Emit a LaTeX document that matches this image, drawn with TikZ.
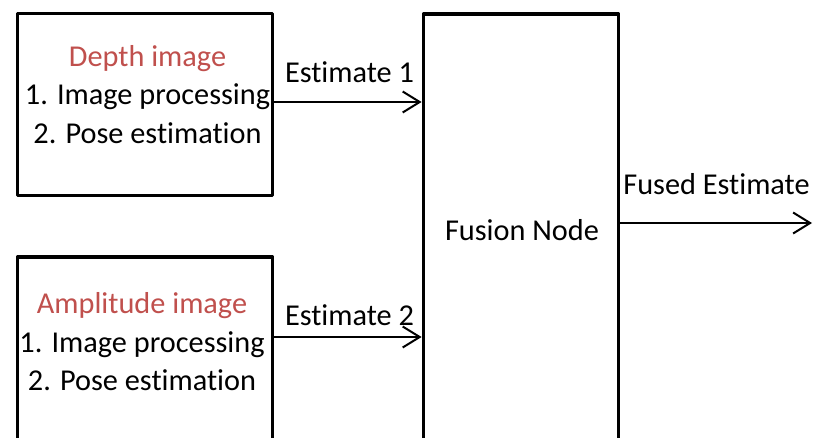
\documentclass[tikz,border=0pt]{standalone}
\usepackage{fontspec}
\setmainfont[Ligatures=NoCommon]{Carlito}
\usetikzlibrary{arrows.meta}
\definecolor{srcred}{HTML}{C0504D}
\tikzset{
  box/.style={draw, line width=3.8pt, inner sep=0pt, line join=round},
  lbl/.style={anchor=base, inner sep=0pt, font=\fontsize{30.3}{36}\selectfont},
  title/.style={lbl, text=srcred},
  flow/.style={line width=2pt, -{Straight Barb[length=17pt, width=21pt, line width=2pt]}},
}
\begin{document}
\begin{tikzpicture}[x=1pt, y=-1pt]
  \useasboundingbox (0,0) rectangle (813,437);
  \clip (0,0) rectangle (813,437);

  % processing blocks
  \node[box, minimum width=255pt, minimum height=182pt] (depth) at (145,104.5) {};
  \node[box, minimum width=255pt, minimum height=300pt] (ampl) at (145,407) {};
  \node[box, minimum width=195pt, minimum height=500pt] (fusion) at (521,264) {};

  % block texts
  \node[title] (d1) at (147.5,66) {Depth image};
  \node[lbl]   (d2) at (147.5,104) {1. Image processing};
  \node[lbl]   (d3) at (147.5,143) {2. Pose estimation};

  \node[title] (a1) at (142,313) {Amplitude image};
  \node[lbl]   (a2) at (142,352) {1. Image processing};
  \node[lbl]   (a3) at (142,390) {2. Pose estimation};

  \node[lbl] (fn) at (522,240) {Fusion Node};

  % connector rows
  \coordinate (r1) at (0,102);
  \coordinate (r2) at (0,337);
  \coordinate (r3) at (0,223);
  \coordinate (out) at (812,223);

  \draw[flow] (depth.east |- r1) -- (fusion.west |- r1);
  \draw[flow] (ampl.east |- r2) -- (fusion.west |- r2);
  \draw[flow] (fusion.east |- r3) -- (out);

  \node[lbl] (e1) at (349.5,82) {Estimate 1};
  \node[lbl] (e2) at (349.5,325) {Estimate 2};
  \node[lbl] (fe) at (716.5,194) {Fused Estimate};
\end{tikzpicture}
\end{document}
